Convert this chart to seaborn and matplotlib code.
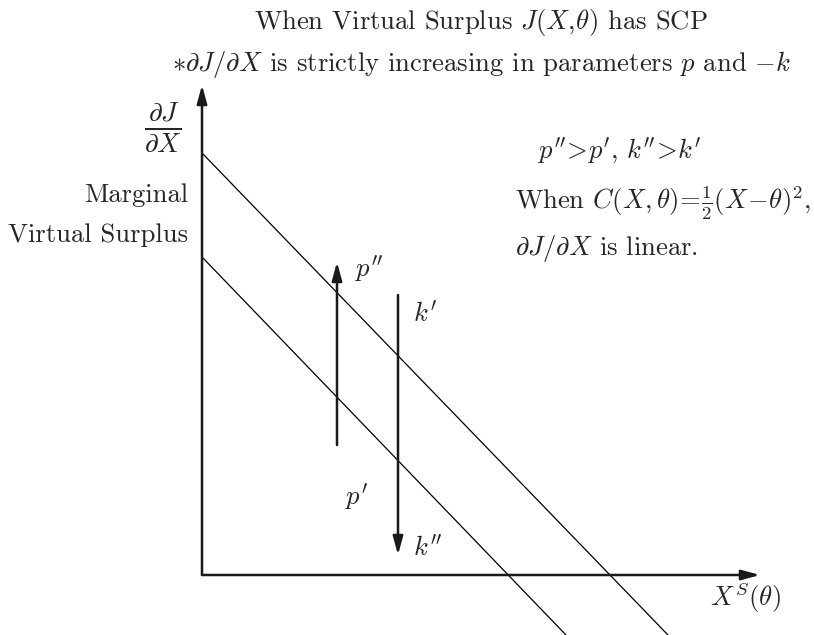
import matplotlib
matplotlib.use("Agg")
import matplotlib.pyplot as plt
import pandas as pd
import seaborn as sns

# Marginal virtual surplus schedules (two parameter settings), as endpoint pairs
curve_names = ["high", "low"]
curve_x = [[0, 466], [0, 364]]
curve_y = [[422, -60], [318, -60]]

# Axis extents
x_axis_end = 558
y_axis_end = 490

# Parameter-shift arrows: (x, start y, end y)
p_arrow = (135, 130, 313)
k_arrow = (196, 280, 20)

sns.set_style("white")
plt.rcParams["font.family"] = ["serif"]
plt.rcParams["font.serif"] = ["cmr10", "DejaVu Serif"]
plt.rcParams["mathtext.fontset"] = "cm"
plt.rcParams["axes.unicode_minus"] = False

rows = []
for name, xs, ys in zip(curve_names, curve_x, curve_y):
    for x, y in zip(xs, ys):
        rows.append({"curve": name, "x": x, "y": y})
df = pd.DataFrame(rows)

fig = plt.figure(figsize=(8.14, 6.35), dpi=100)
ax = fig.add_axes([0, 0, 1, 1])
sns.lineplot(data=df, x="x", y="y", hue="curve", palette=["black", "black"],
             linewidth=0.9, legend=False, ax=ax, sort=False)
ax.set_xlim(-202, 612)
ax.set_ylim(-60, 575)
ax.axis("off")

axis_kw = dict(arrowstyle="-|>,head_length=1.1,head_width=0.3", color="#1a1a1a",
               lw=1.8, shrinkA=0, shrinkB=0)
ax.annotate("", xy=(0, y_axis_end), xytext=(0, 0), arrowprops=axis_kw)
ax.annotate("", xy=(x_axis_end, 0), xytext=(0, 0), arrowprops=axis_kw)
ax.annotate("", xy=(p_arrow[0], p_arrow[2]), xytext=(p_arrow[0], p_arrow[1]),
            arrowprops=axis_kw)
ax.annotate("", xy=(k_arrow[0], k_arrow[2]), xytext=(k_arrow[0], k_arrow[1]),
            arrowprops=axis_kw)

fs = 19.2
ax.text(279, 553, r"When Virtual Surplus $J(X,\!\theta)$ has SCP",
        ha="center", va="center", fontsize=fs)
ax.text(279, 510, r"$*\partial J/\partial X$ is strictly increasing in parameters $p$ and $-k$",
        ha="center", va="center", fontsize=fs)
ax.text(-39, 447, r"$\frac{\partial J}{\partial X}$", ha="center", va="center", fontsize=28)
ax.text(-14, 380, "Marginal", ha="right", va="center", fontsize=fs)
ax.text(-14, 340, "Virtual Surplus", ha="right", va="center", fontsize=fs)
ax.text(418, 424, r"$p^{\prime\prime}\!>\!p^{\prime},\,k^{\prime\prime}\!>\!k^{\prime}$",
        ha="center", va="center", fontsize=fs)
ax.text(313, 372, r"When $C(X,\theta)\!=\!\frac{1}{2}(X\!-\!\theta)^{2}$,",
        ha="left", va="center", fontsize=fs)
ax.text(313, 327, r"$\partial J/\partial X$ is linear.", ha="left", va="center", fontsize=fs)
ax.text(153, 306, r"$p^{\prime\prime}$", ha="left", va="center", fontsize=fs)
ax.text(211, 261, r"$k^{\prime}$", ha="left", va="center", fontsize=fs)
ax.text(143, 78, r"$p^{\prime}$", ha="left", va="center", fontsize=fs)
ax.text(211, 27, r"$k^{\prime\prime}$", ha="left", va="center", fontsize=fs)
ax.text(543, -22, r"$X^{S}(\theta)$", ha="center", va="center", fontsize=fs)

fig.savefig("out.png", dpi=100)
